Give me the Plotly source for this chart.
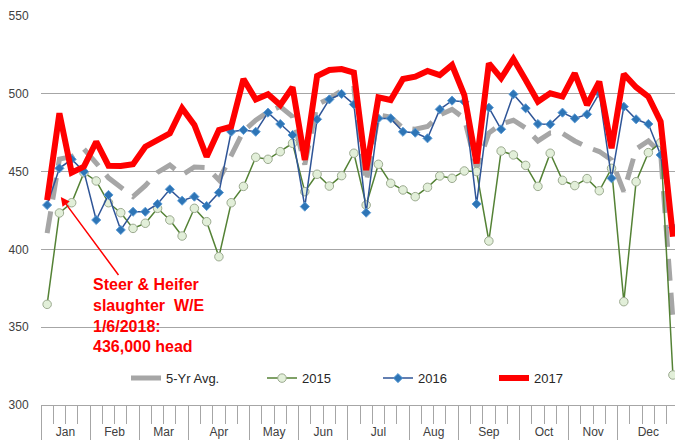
import plotly.graph_objects as go

# ---------------- data ----------------
months = ["Jan", "Feb", "Mar", "Apr", "May", "Jun", "Jul", "Aug", "Sep", "Oct", "Nov", "Dec"]
weeks_per_month = [4, 4, 4, 5, 4, 4, 5, 4, 5, 4, 4, 5]

avg5 = [410.5, 458, 459.6, 464.5, 455.5, 446, 440, 434, 441, 449.5,
        454.2, 447.8, 453, 452.6, 444.6, 461, 476, 483, 488.3, 491.8,
        485.3, 454.5, 493, 497, 502, 503.5, 443, 486.4, 485, 478,
        477.2, 479, 486.4, 490, 484.2, 452, 474.8, 480.6, 483, 478,
        469.7, 474.8, 474.6, 469.7, 465.8, 462.9, 457.5, 437.1, 464.5, 469.7,
        462, 355]

y2015 = [364.7, 423.4, 430, 449.3, 444, 430, 423.6, 413.5, 416.8, 426.4,
         418.9, 408.6, 426.4, 417.8, 395.3, 430, 440.5, 459.2, 457.9, 462.8,
         468.2, 437.1, 448.3, 440.7, 447.4, 461.8, 428.5, 454.7, 442.5, 438.2,
         433.9, 439.9, 447.2, 445.7, 450.4, 450, 405.4, 463.2, 460.7, 454,
         440.5, 461.8, 444.4, 441, 445.5, 437.7, 452.1, 366.4, 443.5, 462.2,
         468.6, 319.3]

y2016 = [428.5, 452.1, 457.9, 450, 418.9, 435, 412.5, 424.2, 424.2, 429.2,
         438.6, 431.3, 433.9, 427.9, 436.5, 475.6, 476.7, 475.6, 487.9, 480.6,
         473.5, 427.5, 483.6, 496.4, 499.9, 493.2, 423.6, 484.2, 484.2, 475.6,
         475, 471.4, 490, 495.6, 494.9, 429.2, 491.1, 477.2, 499.7, 490.7,
         480.6, 480.4, 487.9, 484.2, 486.8, 500.3, 445.7, 491.7, 483.6, 480.6,
         460.7, 414]

y2017 = [431.7, 487.5, 449.3, 453.2, 469.2, 453.8, 453.6, 454.7, 466, 470.3,
         474.6, 490.7, 480, 459.6, 476.7, 478.9, 509.5, 496.4, 499.7, 492.8,
         504.2, 457.5, 511.4, 515.3, 515.9, 513.6, 451, 497.7, 496, 509.5,
         511, 514.7, 512, 518.5, 499.2, 455.3, 519.6, 510, 522.4, 508.9,
         495, 500.3, 498.2, 513.2, 492.8, 507.8, 465, 512.7, 504.2, 498.2,
         482.1, 408.2]

note_text = "Steer & Heifer<br>slaughter\u00a0 W/E<br>1/6/2018:<br>436,000 head"

# ---------------- derived axis helpers ----------------
n = len(y2017)
weeks = list(range(n))
bounds = [-0.5]
for w in weeks_per_month:
    bounds.append(bounds[-1] + w)
centers = [(a + b) / 2 for a, b in zip(bounds[:-1], bounds[1:])]
week_bounds = [i - 0.5 for i in range(n + 1)]
xr = [-0.5, 51.17]

FONT = "Liberation Sans, Arial, sans-serif"
GRID = "#a6a6a6"

fig = go.Figure()

fig.add_trace(go.Scatter(
    x=weeks, y=avg5, mode="lines", name="5-Yr Avg.", showlegend=False,
    line=dict(color="#a6a6a6", width=5, dash="22px,12px")))
fig.add_trace(go.Scatter(
    x=[None], y=[None], mode="lines", name="5-Yr Avg.", legend="legend",
    line=dict(color="#a6a6a6", width=5)))
fig.add_trace(go.Scatter(
    x=weeks, y=y2015, mode="lines+markers", name="2015", legend="legend2",
    line=dict(color="#548235", width=1.5),
    marker=dict(symbol="circle", size=8.5, color="#e2efd9",
                line=dict(color="#9caa90", width=1))))
fig.add_trace(go.Scatter(
    x=weeks, y=y2016, mode="lines+markers", name="2016", legend="legend3",
    line=dict(color="#2f5597", width=1.5),
    marker=dict(symbol="diamond", size=7, color="#2e75b6",
                line=dict(color="#5b9bd5", width=1))))
fig.add_trace(go.Scatter(
    x=weeks, y=y2017, mode="lines", name="2017", legend="legend4",
    line=dict(color="#ff0000", width=6)))
# carrier for the month-label axis (no visible marks)
fig.add_trace(go.Scatter(
    x=centers, y=[None] * len(centers), xaxis="x2", mode="lines",
    showlegend=False, hoverinfo="skip"))

def leg(px_left):
    return dict(orientation="h", x=(px_left - 41) / 634, y=0.069,
                xanchor="left", yanchor="middle", bgcolor="rgba(0,0,0,0)",
                font=dict(family=FONT, size=13, color="#262626"),
                itemwidth=30)

fig.update_layout(
    width=675, height=440,
    margin=dict(l=41, r=0, t=16, b=35, autoexpand=False),
    paper_bgcolor="white", plot_bgcolor="white",
    font=dict(family=FONT, size=12, color="#404040"),
    legend=leg(126), legend2=leg(262), legend3=leg(378), legend4=leg(494),
    xaxis=dict(
        range=xr, showgrid=False, zeroline=False, automargin=False,
        showline=True, linecolor=GRID, linewidth=1,
        tickmode="array", tickvals=bounds, showticklabels=False,
        ticks="outside", ticklen=36, tickcolor=GRID, tickwidth=1,
        minor=dict(tickmode="array", tickvals=week_bounds, ticks="outside",
                   ticklen=18, tickcolor=GRID, tickwidth=1),
    ),
    xaxis2=dict(
        range=xr, overlaying="x", anchor="y", side="bottom", automargin=False,
        showgrid=False, zeroline=False, showline=False,
        tickmode="array", tickvals=centers, ticktext=months,
        ticks="outside", ticklen=16, tickcolor="rgba(0,0,0,0)",
        tickfont=dict(family=FONT, size=12, color="#404040"),
    ),
    yaxis=dict(
        range=[300, 550], tickmode="linear", tick0=300, dtick=50,
        automargin=False,
        showgrid=True, gridcolor=GRID, gridwidth=1, zeroline=False,
        showline=False, ticks="outside", ticklen=9,
        tickcolor="rgba(0,0,0,0)",
        tickfont=dict(family=FONT, size=12, color="#404040"),
    ),
    shapes=[dict(type="rect", xref="paper", yref="paper",
                 x0=(83 - 41) / 634, x1=(233 - 41) / 634,
                 y0=(405 - 362) / 389, y1=(405 - 268) / 389,
                 fillcolor="white", line=dict(width=0), layer="between")],
    annotations=[dict(
        x=1.114, y=433.7, xref="x", yref="y",
        text=note_text, align="left", showarrow=True,
        ax=88, ay=119, axref="pixel", ayref="pixel",
        arrowcolor="#ff0000", arrowwidth=1.5, arrowhead=2, arrowsize=1.2,
        xanchor="center", yanchor="middle",
        font=dict(family=FONT, size=16, color="#ff0000", weight="bold"),
    )],
)

fig.write_html("out.html",
               config={"displayModeBar": False},
               post_script="document.body.style.margin='0';"
                           "document.body.style.overflow='hidden';")
